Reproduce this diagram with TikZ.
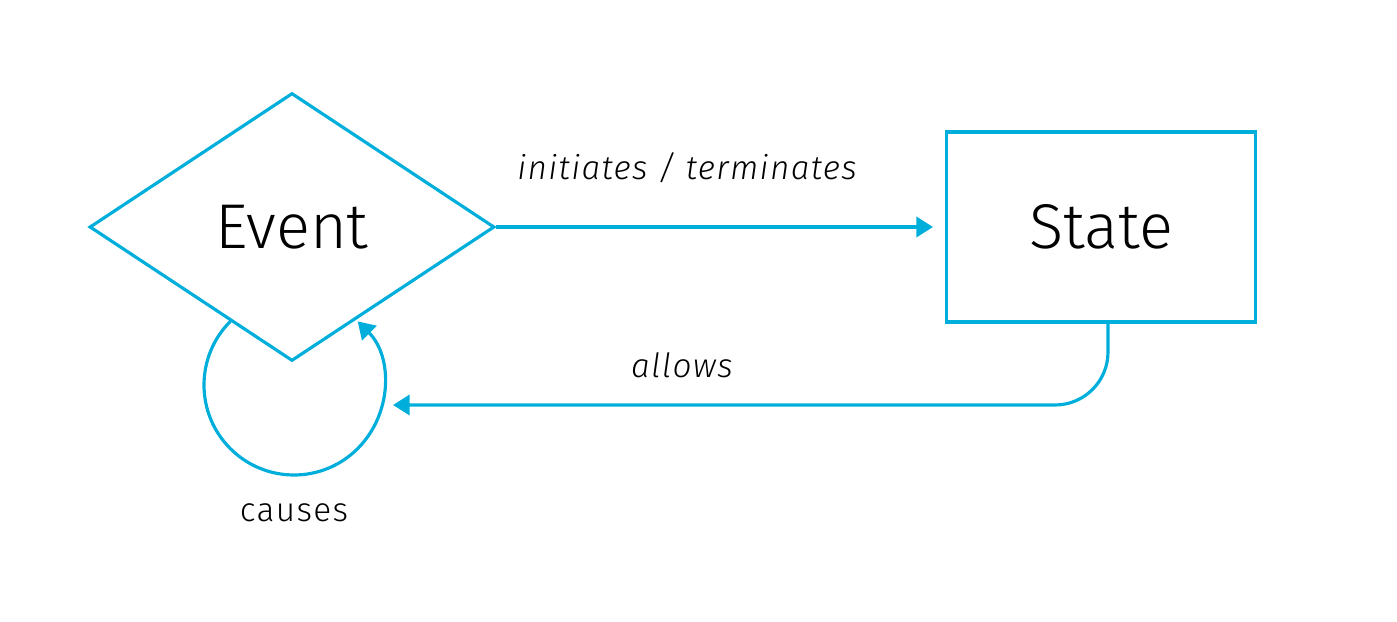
\documentclass[tikz,border=0pt]{standalone}
\usepackage{fontspec}
\setmainfont{Fira Sans Light}[ItalicFont={Fira Sans Light Italic}]
\newfontfamily\lblfont{Fira Sans Light}[ItalicFont={Fira Sans Light Italic},LetterSpace=4]
\usetikzlibrary{arrows.meta,shapes.geometric}
\definecolor{flowblue}{RGB}{0,174,219}
\tikzset{
  flow/.style={draw=flowblue,line width=1.8pt,-{Triangle[length=9.5pt,width=11.5pt]}},
  box/.style={draw=flowblue,line width=1.8pt,inner sep=0pt,font=\fontsize{36}{40}\selectfont},
  lbl/.style={font=\lblfont\fontsize{19}{22}\selectfont}
}
\begin{document}
\begin{tikzpicture}[x=0.02cm,y=-0.02cm]
  \useasboundingbox (0,0) rectangle (1397,622);
  \node[box,diamond,aspect=1.5,minimum width=8.1cm,minimum height=5.36cm] (event) at (292,227) {Event};
  \node[box,rectangle,minimum width=6.18cm,minimum height=3.8cm] (state) at (1101,227) {State};
  \coordinate (initend) at (933,227);
  \coordinate (allowend) at (393,405);
  \coordinate (loopc) at (294,385);
  % event -> state
  \draw[flow] (event.east) -- (initend);
  % state -> event
  \draw[flow,rounded corners=1.06cm] ([xshift=0.14cm]state.south) |- (allowend);
  % self loop
  \draw[flow] ([shift={(225:90)}]loopc) arc[start angle=225,end angle=-45,radius=90];
  \node[lbl] (initlbl) at (687,168) {\itshape initiates / terminates};
  \node[lbl] (allowlbl) at (682,365) {\itshape allows};
  \node[lbl] (causelbl) at (294,513) {causes};
\end{tikzpicture}
\end{document}
